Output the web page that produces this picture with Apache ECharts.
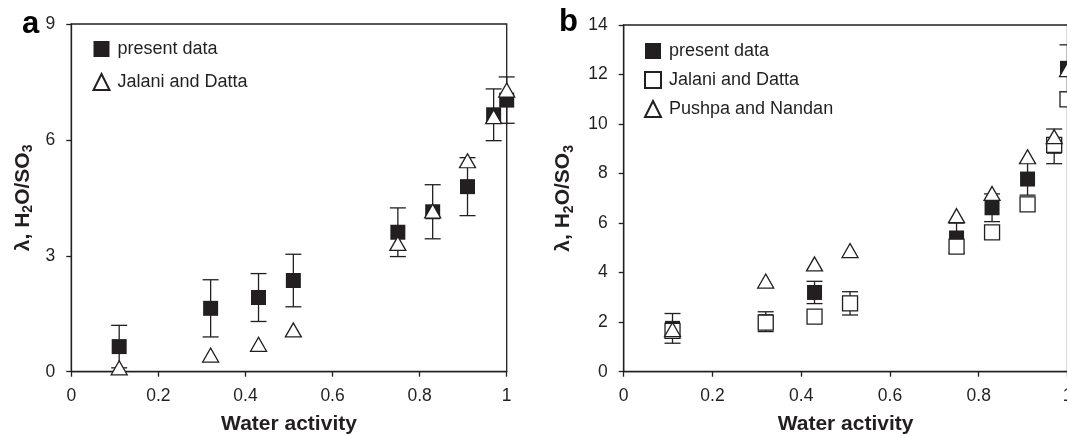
<!DOCTYPE html>
<html>
<head>
<meta charset="utf-8">
<script src="https://cdn.jsdelivr.net/npm/echarts@6/dist/echarts.min.js"></script>
<style>
  html, body { margin: 0; padding: 0; background: #fff; }
  #chart { width: 1067px; height: 436px; }
</style>
</head>
<body>
<div id="chart"></div>
<script>
// water activity values (same for both panels)
const waterActivity = [0.11, 0.32, 0.43, 0.51, 0.75, 0.83, 0.91, 0.97, 1.0];

// panel a
const aPresent = [0.65, 1.64, 1.92, 2.36, 3.61, 4.14, 4.79, 6.65, 7.03];
const aPresentErr = [0.55, 0.74, 0.62, 0.68, 0.63, 0.70, 0.75, 0.67, 0.60];
const aJalani = [0.10, 0.43, 0.71, 1.08, 3.32, 4.16, 5.46, 6.60, 7.29];

// panel b
const bPresent = [1.75, 2.02, 3.2, 2.76, 5.4, 6.62, 7.78, 9.1, 12.25];
const bPresentErr = [0.6, 0.4, 0.45, 0.47, 0.6, 0.56, 0.65, 0.7, 0.95];
const bJalani = [1.65, 1.98, 2.22, 2.76, 5.05, 5.63, 6.76, 9.16, 11.0];
const bPushpa = [1.7, 3.66, 4.35, 4.89, 6.3, 7.2, 8.68, 9.49, 12.2];

const ink = '#231f20';
const font = "'Liberation Sans', Arial, sans-serif";

const myChart = echarts.init(document.getElementById('chart'));

const pts = (ys) => waterActivity.map((x, i) => [x, ys[i]]);
const errPts = (ys, es) => waterActivity.map((x, i) => [x, ys[i], es[i]]);

function errRender(params, api) {
  const x = api.value(0), y = api.value(1), e = api.value(2);
  const top = api.coord([x, y + e]);
  const bot = api.coord([x, y - e]);
  const w = 8;
  const style = { stroke: ink, lineWidth: 1.3 };
  return {
    type: 'group',
    children: [
      { type: 'line', shape: { x1: top[0], y1: top[1], x2: bot[0], y2: bot[1] }, style },
      { type: 'line', shape: { x1: top[0] - w, y1: top[1], x2: top[0] + w, y2: top[1] }, style },
      { type: 'line', shape: { x1: bot[0] - w, y1: bot[1], x2: bot[0] + w, y2: bot[1] }, style }
    ]
  };
}

const filledSq = { color: ink, borderColor: ink, borderWidth: 0, opacity: 1 };
const openMark = { color: '#fff', borderColor: ink, borderWidth: 1.3, opacity: 1 };

function xAxisFor(gi) {
  return {
    type: 'value', gridIndex: gi, min: 0, max: 1, interval: 0.2,
    name: 'Water activity', nameLocation: 'middle', nameGap: 42,
    nameTextStyle: { fontFamily: font, fontSize: 21, fontWeight: 'bold', color: ink },
    axisLine: { show: true, lineStyle: { color: ink, width: 1.3 } },
    axisTick: { show: true, inside: false, length: 5, lineStyle: { color: ink, width: 1.3 } },
    axisLabel: { fontFamily: font, fontSize: 17.5, color: ink, margin: 15 },
    splitLine: { show: false }
  };
}

function yAxisFor(gi, max, interval, gap) {
  return {
    type: 'value', gridIndex: gi, min: 0, max: max, interval: interval,
    name: '{n|λ, H}{s|2}{n|O/SO}{s|3}', nameLocation: 'middle', nameGap: gap,
    nameTextStyle: {
      rich: {
        n: { fontFamily: font, fontSize: 21, fontWeight: 'bold', color: ink },
        s: { fontFamily: font, fontSize: 14, fontWeight: 'bold', color: ink, padding: [11, 0, 0, 0] }
      }
    },
    axisLine: { show: true, lineStyle: { color: ink, width: 1.3 } },
    axisTick: { show: true, inside: false, length: 5, lineStyle: { color: ink, width: 1.3 } },
    axisLabel: { fontFamily: font, fontSize: 17.5, color: ink, margin: 16 },
    splitLine: { show: false }
  };
}

const stripSuffix = (name) => name.replace(/ \[[ab]\]$/, '');

const option = {
  animation: false,
  backgroundColor: '#fff',
  grid: [
    { left: 71.3, top: 24, width: 435.4, height: 347.7, show: true, borderColor: ink, borderWidth: 1.3, outerBoundsMode: 'none' },
    { left: 623.7, top: 25, width: 443.8, height: 346.7, show: true, borderColor: ink, borderWidth: 1.3, outerBoundsMode: 'none' }
  ],
  graphic: [
    { type: 'text', left: 22, top: 9, style: { text: 'a', font: "bold 31px 'Liberation Sans', Arial, sans-serif", fill: '#000' } },
    { type: 'text', left: 559, top: 7, style: { text: 'b', font: "bold 31px 'Liberation Sans', Arial, sans-serif", fill: '#000' } }
  ],
  legend: [
    {
      left: 87.5, top: 35, orient: 'vertical', itemWidth: 16, itemHeight: 16, itemGap: 15,
      data: ['present data [a]', 'Jalani and Datta [a]'],
      formatter: stripSuffix, selectedMode: false,
      textStyle: { fontFamily: font, fontSize: 18, color: ink, padding: [0, 0, 0, 3] }
    },
    {
      left: 639, top: 37, orient: 'vertical', itemWidth: 16, itemHeight: 16, itemGap: 11,
      data: ['present data [b]', 'Jalani and Datta [b]', 'Pushpa and Nandan [b]'],
      formatter: stripSuffix, selectedMode: false,
      textStyle: { fontFamily: font, fontSize: 18, color: ink, padding: [0, 0, 0, 3] }
    }
  ],
  xAxis: [xAxisFor(0), xAxisFor(1)],
  yAxis: [yAxisFor(0, 9, 3, 36), yAxisFor(1, 14, 2, 48)],
  series: [
    // panel a
    { name: 'err a', type: 'custom', xAxisIndex: 0, yAxisIndex: 0, renderItem: errRender,
      encode: { x: 0, y: 1 }, data: errPts(aPresent, aPresentErr) },
    { name: 'present data [a]', type: 'scatter', xAxisIndex: 0, yAxisIndex: 0,
      symbol: 'rect', symbolSize: 15, itemStyle: filledSq, data: pts(aPresent) },
    { name: 'Jalani and Datta [a]', type: 'scatter', xAxisIndex: 0, yAxisIndex: 0,
      symbol: 'triangle', symbolSize: [16, 14], itemStyle: openMark, data: pts(aJalani) },
    // panel b
    { name: 'err b', type: 'custom', xAxisIndex: 1, yAxisIndex: 1, renderItem: errRender,
      encode: { x: 0, y: 1 }, data: errPts(bPresent, bPresentErr) },
    { name: 'present data [b]', type: 'scatter', xAxisIndex: 1, yAxisIndex: 1,
      symbol: 'rect', symbolSize: 15, itemStyle: filledSq, data: pts(bPresent) },
    { name: 'Jalani and Datta [b]', type: 'scatter', xAxisIndex: 1, yAxisIndex: 1,
      symbol: 'rect', symbolSize: 15, itemStyle: openMark, data: pts(bJalani) },
    { name: 'Pushpa and Nandan [b]', type: 'scatter', xAxisIndex: 1, yAxisIndex: 1,
      symbol: 'triangle', symbolSize: [16, 14], itemStyle: openMark, data: pts(bPushpa) }
  ]
};

option && myChart.setOption(option);
</script>
</body>
</html>
